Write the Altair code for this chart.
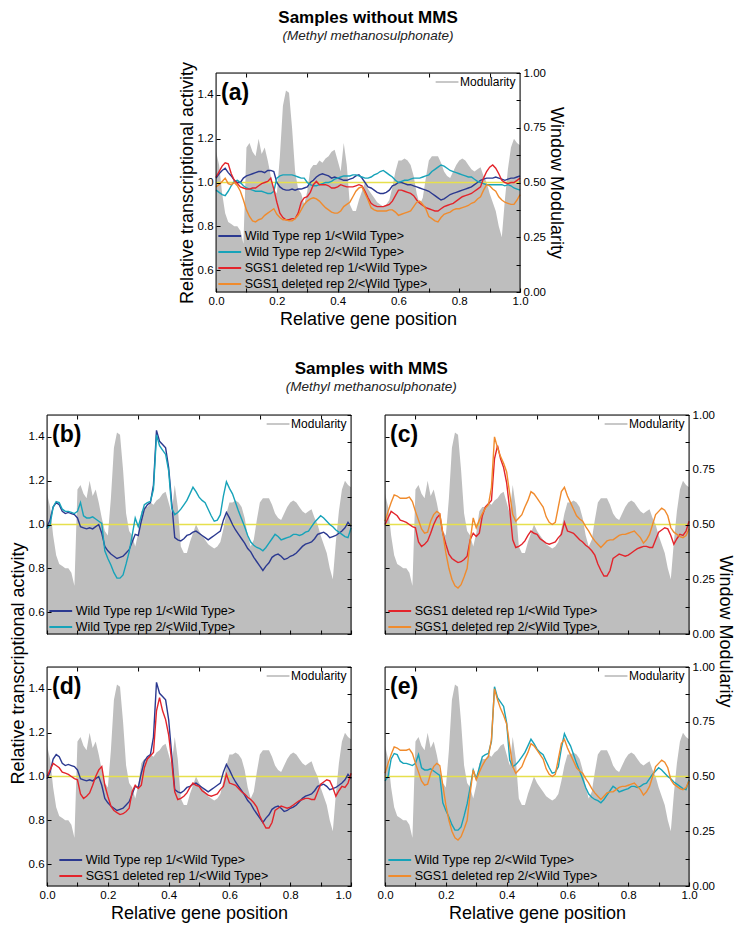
import altair as alt
import pandas as pd

# ---------------- data ----------------
X = [round(i * 0.01, 2) for i in range(101)]

MODULARITY = [
    0.64, 0.58, 0.45, 0.36, 0.32, 0.31, 0.30, 0.30, 0.28, 0.22,
    0.66, 0.68, 0.64, 0.62, 0.70, 0.63, 0.66, 0.60, 0.53, 0.47,
    0.45, 0.62, 0.85, 0.92, 0.91, 0.75, 0.55, 0.47, 0.45, 0.40,
    0.46, 0.56, 0.58, 0.58, 0.60, 0.59, 0.61, 0.62, 0.64, 0.65,
    0.60, 0.55, 0.68, 0.58, 0.40, 0.37, 0.37, 0.42, 0.46, 0.50,
    0.47, 0.45, 0.43, 0.41, 0.40, 0.39, 0.40, 0.42, 0.48, 0.55,
    0.60, 0.60, 0.61, 0.60, 0.58, 0.53, 0.45, 0.40, 0.43, 0.52,
    0.60, 0.62, 0.62, 0.62, 0.59, 0.55, 0.53, 0.52, 0.55, 0.58,
    0.60, 0.61, 0.60, 0.58, 0.56, 0.55, 0.56, 0.57, 0.53, 0.50,
    0.45, 0.41, 0.37, 0.30, 0.25, 0.42, 0.56, 0.66, 0.70, 0.68,
    0.67,
]

# Samples without MMS
NO_WT1 = [
    1.02, 1.04, 1.055, 1.065, 1.045, 1.03, 1.01, 1.00, 1.00, 1.02,
    1.03, 1.035, 1.04, 1.045, 1.05, 1.05, 1.045, 1.055, 1.055, 1.05,
    1.00, 0.98, 0.97, 0.965, 0.965, 0.97, 0.965, 0.97, 0.97, 0.975,
    0.98, 1.00, 1.01, 1.025, 1.035, 1.04, 1.035, 1.03, 1.02, 1.025,
    1.02, 1.015, 1.01, 1.01, 1.015, 1.02, 1.03, 1.035, 1.02, 1.00,
    0.98, 0.975, 0.965, 0.955, 0.95, 0.95, 0.955, 0.965, 0.985, 0.99,
    1.00, 1.00, 0.995, 0.99, 0.99, 0.985, 0.98, 0.975, 0.97, 0.965,
    0.96, 0.95, 0.94, 0.93, 0.92, 0.925, 0.935, 0.945, 0.95, 0.955,
    0.96, 0.965, 0.97, 0.975, 0.98, 0.99, 1.00, 1.01, 1.015, 1.02,
    1.02, 1.02, 1.025, 1.02, 1.015, 1.01, 1.015, 1.02, 1.02, 1.025,
    1.03,
]
NO_WT2 = [
    0.965, 0.955, 0.945, 0.94, 0.96, 0.985, 1.005, 1.01, 1.00, 0.985,
    0.975, 0.97, 0.965, 0.96, 0.96, 0.96, 0.955, 0.95, 0.95, 0.96,
    1.02, 1.03, 1.035, 1.035, 1.035, 1.035, 1.03, 1.025, 1.02, 1.02,
    1.00, 0.99, 0.985, 0.985, 0.99, 0.995, 1.00, 1.00, 1.005, 1.015,
    1.02, 1.025, 1.03, 1.03, 1.03, 1.035, 1.035, 1.03, 1.025, 1.02,
    1.02, 1.025, 1.035, 1.04, 1.05, 1.055, 1.045, 1.035, 1.025, 1.01,
    1.00, 1.005, 1.01, 1.01, 1.015, 1.02, 1.02, 1.02, 1.025, 1.03,
    1.035, 1.05, 1.06, 1.07, 1.08, 1.075, 1.065, 1.055, 1.05, 1.045,
    1.04, 1.035, 1.03, 1.025, 1.025, 1.015, 1.005, 1.00, 0.995, 0.99,
    0.99, 0.99, 0.99, 0.99, 0.99, 0.985, 0.99, 0.985, 0.975, 0.97,
    0.965,
]
NO_S1 = [
    1.025, 1.05, 1.075, 1.09, 1.085, 1.04, 1.01, 0.995, 0.98, 0.975,
    0.97, 0.97, 0.975, 0.975, 0.985, 0.995, 1.00, 1.005, 1.02, 0.97,
    0.91, 0.86, 0.84, 0.83, 0.83, 0.835, 0.835, 0.86, 0.91, 0.93,
    0.935, 0.955, 0.99, 1.005, 0.99, 0.99, 0.99, 0.985, 0.975, 0.975,
    0.98, 0.99, 0.985, 0.98, 0.98, 0.98, 0.985, 0.99, 0.985, 0.96,
    0.93, 0.905, 0.895, 0.89, 0.89, 0.89, 0.895, 0.90, 0.915, 0.94,
    0.965, 0.965, 0.96, 0.955, 0.95, 0.94, 0.92, 0.905, 0.895, 0.885,
    0.88, 0.875, 0.87, 0.87, 0.88, 0.89, 0.895, 0.90, 0.905, 0.915,
    0.925, 0.935, 0.94, 0.945, 0.95, 0.96, 0.97, 0.98, 1.02, 1.05,
    1.07, 1.08, 1.065, 1.04, 1.01, 1.00, 0.995, 1.00, 1.00, 1.01,
    1.02,
]
NO_S2 = [
    0.98, 0.99, 1.005, 1.02, 0.995, 0.99, 1.00, 0.985, 0.96, 0.92,
    0.875, 0.845, 0.825, 0.82, 0.83, 0.835, 0.85, 0.86, 0.87, 0.88,
    0.855, 0.84, 0.83, 0.83, 0.825, 0.825, 0.835, 0.85, 0.875, 0.90,
    0.915, 0.925, 0.93, 0.925, 0.915, 0.90, 0.885, 0.875, 0.865, 0.86,
    0.86, 0.87, 0.89, 0.90, 0.91, 0.935, 0.96, 0.975, 0.98, 0.95,
    0.92, 0.885, 0.875, 0.87, 0.87, 0.87, 0.87, 0.875, 0.875, 0.865,
    0.85, 0.855, 0.86, 0.865, 0.87, 0.89, 0.91, 0.915, 0.90, 0.88,
    0.845, 0.835, 0.825, 0.82, 0.84, 0.855, 0.86, 0.865, 0.875, 0.88,
    0.88, 0.885, 0.89, 0.895, 0.905, 0.91, 0.925, 0.935, 0.965, 0.99,
    0.985, 0.97, 0.96, 0.935, 0.92, 0.91, 0.905, 0.90, 0.90, 0.92,
    0.945,
]

# Samples with MMS
MMS_WT1 = [
    0.99, 1.02, 1.08, 1.10, 1.09, 1.06, 1.05, 1.055, 1.05, 1.045,
    1.03, 0.99, 0.985, 0.98, 0.985, 0.98, 0.99, 1.00, 0.96, 0.90,
    0.88, 0.865, 0.855, 0.845, 0.85, 0.855, 0.87, 0.885, 0.92, 0.955,
    0.95, 1.015, 1.07, 1.09, 1.10, 1.18, 1.43, 1.38, 1.365, 1.35,
    1.26, 1.10, 0.94, 0.93, 0.925, 0.935, 0.95, 0.955, 0.965, 0.97,
    0.96, 0.95, 0.94, 0.93, 0.94, 0.95, 0.96, 0.97, 1.02, 1.055,
    1.03, 1.00, 0.975, 0.955, 0.935, 0.915, 0.89, 0.875, 0.85, 0.83,
    0.81, 0.79, 0.81, 0.825, 0.85, 0.86, 0.865, 0.855, 0.84, 0.845,
    0.855, 0.86, 0.87, 0.885, 0.90, 0.91, 0.915, 0.92, 0.935, 0.955,
    0.96, 0.965, 0.955, 0.94, 0.945, 0.95, 0.96, 0.97, 0.985, 1.01,
    0.99,
]
MMS_WT2 = [
    0.98, 1.00, 1.08, 1.105, 1.10, 1.07, 1.06, 1.06, 1.055, 1.05,
    1.06, 1.10, 1.04, 1.03, 1.03, 1.035, 1.025, 1.015, 1.005, 0.88,
    0.845, 0.815, 0.78, 0.755, 0.755, 0.77, 0.82, 0.875, 0.95, 1.03,
    0.99, 1.04, 1.09, 1.10, 1.105, 1.16, 1.41, 1.36, 1.34, 1.32,
    1.245, 1.075, 1.045, 1.055, 1.07, 1.09, 1.11, 1.14, 1.17, 1.15,
    1.125, 1.11, 1.10, 1.07, 1.04, 1.015, 1.02, 1.045, 1.13, 1.195,
    1.165, 1.14, 1.10, 1.06, 1.025, 0.99, 0.95, 0.92, 0.905, 0.895,
    0.89, 0.88, 0.895, 0.915, 0.935, 0.955, 0.945, 0.93, 0.935, 0.94,
    0.945, 0.955, 0.955, 0.95, 0.955, 0.965, 0.97, 0.99, 1.01, 1.025,
    1.04, 1.03, 1.015, 1.00, 0.99, 0.975, 0.965, 0.955, 0.945, 0.94,
    0.985,
]
MMS_S1 = [
    1.00, 1.03, 1.06, 1.05, 1.04, 1.02, 1.015, 1.01, 1.00, 0.99,
    0.985, 0.92, 0.90, 0.91, 0.925, 0.96, 1.00, 1.03, 1.045, 0.96,
    0.91, 0.865, 0.845, 0.835, 0.826, 0.83, 0.84, 0.855, 0.93, 0.96,
    0.945, 0.96, 1.04, 1.08, 1.095, 1.11, 1.30, 1.36, 1.30, 1.26,
    1.19, 1.07, 0.93, 0.895, 0.90, 0.91, 0.925, 0.95, 0.97, 0.96,
    0.955, 0.935, 0.925, 0.915, 0.91, 0.915, 0.92, 0.94, 0.955, 1.01,
    0.97, 0.965, 0.96, 0.945, 0.93, 0.92, 0.905, 0.895, 0.88, 0.86,
    0.82, 0.79, 0.765, 0.765, 0.79, 0.845, 0.855, 0.865, 0.86, 0.855,
    0.86, 0.87, 0.88, 0.89, 0.895, 0.90, 0.90, 0.895, 0.895, 0.93,
    0.965, 0.975, 0.985, 0.98, 0.95, 0.91, 0.935, 0.955, 0.95, 0.97,
    1.015,
]
MMS_S2 = [
    1.015, 1.06, 1.10, 1.135, 1.13, 1.12, 1.12, 1.12, 1.125, 1.105,
    1.06, 1.02, 0.98, 0.96, 0.965, 1.015, 1.045, 1.06, 1.05, 0.96,
    0.87, 0.80, 0.75, 0.72, 0.71, 0.725, 0.76, 0.80, 0.925, 1.03,
    0.985, 1.02, 1.05, 1.075, 1.09, 1.17, 1.40, 1.35, 1.31, 1.28,
    1.24, 1.14, 1.045, 1.015, 1.03, 1.045, 1.08, 1.11, 1.15, 1.14,
    1.12, 1.10, 1.08, 1.035, 1.01, 1.00, 1.01, 1.08, 1.15, 1.17,
    1.13, 1.10, 1.07, 1.04, 1.025, 1.015, 0.99, 0.97, 0.945, 0.925,
    0.91, 0.895, 0.91, 0.925, 0.93, 0.93, 0.94, 0.95, 0.955, 0.955,
    0.96, 0.965, 0.97, 0.955, 0.94, 0.915, 0.93, 0.955, 1.00, 1.045,
    1.06, 1.075, 1.065, 1.04, 0.985, 0.965, 0.955, 0.945, 0.94, 0.95,
    0.98,
]

N_WT1 = "Wild Type rep 1/<Wild Type>"
N_WT2 = "Wild Type rep 2/<Wild Type>"
N_S1 = "SGS1 deleted rep 1/<Wild Type>"
N_S2 = "SGS1 deleted rep 2/<Wild Type>"

# ---------------- style ----------------
FONT = "Liberation Sans, Arial, sans-serif"
COLORS = {N_WT1: "#2b3990", N_WT2: "#17a3b9", N_S1: "#e3242b", N_S2: "#f08b2d"}
GREY = "#bebebe"
LEG_GREY = "#c8c8c8"
YELLOW = "#e6e04d"
SYM = "M-2,0H2"
PW = 304      # panel width
PH = 219      # panel height
LBL = 11.5    # tick label size
TTL = 18      # axis title size

LEFT_TICKS = [round(0.5 + 0.1 * i, 1) for i in range(1, 10)]
RIGHT_TICKS = [i / 8 for i in range(9)]
X_TICKS = [round(0.1 * i, 1) for i in range(11)]
TOP_TICKS = X_TICKS[1:-1]

LEFT_EXPR = "round(datum.value*10) % 2 == 0 ? format(datum.value, '.1f') : ''"
RIGHT_EXPR = "round(datum.value*8) % 2 == 0 ? format(datum.value, '.2f') : ''"


def make_axis(orient, values, show_labels, label_expr=None, title=None, extra=None):
    kw = dict(orient=orient, values=values, tickSize=4, offset=-4, domain=False,
              grid=False, tickColor="black", tickWidth=1, zindex=1,
              labels=show_labels, labelFontSize=LBL, labelColor="black", labelFont=FONT)
    if show_labels and label_expr:
        kw["labelExpr"] = label_expr
    if title:
        kw.update(title=title, titleFontSize=TTL, titleFontWeight="normal",
                  titleColor="black", titleFont=FONT)
    else:
        kw["title"] = None
    if extra:
        kw.update(extra)
    return alt.Axis(**kw)


def panel(letter, series, left_labels, right_labels, x_labels,
          x_title=False, left_title=None, left_title_y=None,
          right_title=None, right_title_y=None, leg_x=6.7, leg_y=189,
          flush_last=False):
    mod_df = pd.DataFrame({"x": X, "m": MODULARITY, "k": ["Modularity"] * len(X)})

    bottom_extra = dict(labelPadding=3, titlePadding=4, labelFlush=False)
    if flush_last:
        bottom_extra["labelAlign"] = {"condition": {"test": "datum.value == 1", "value": "right"},
                                      "value": "center"}
    right_extra = dict(labelPadding=3, titlePadding=1)
    if right_title_y is not None:
        right_extra["titleY"] = right_title_y
    left_extra = dict(labelPadding=3, titlePadding=1)
    if left_title_y is not None:
        left_extra["titleY"] = left_title_y

    area = alt.Chart(mod_df).mark_area(fillOpacity=1).encode(
        x=alt.X("x:Q", scale=alt.Scale(domain=[0, 1], nice=False),
                axis=make_axis("bottom", X_TICKS, x_labels, LEFT_EXPR,
                               "Relative gene position" if x_title else None, bottom_extra)),
        y=alt.Y("m:Q", scale=alt.Scale(domain=[0, 1], nice=False),
                axis=make_axis("right", RIGHT_TICKS, right_labels, RIGHT_EXPR,
                               right_title, right_extra)),
        fill=alt.Fill("k:N", scale=alt.Scale(domain=["Modularity"], range=[GREY]),
                      legend=alt.Legend(orient="none", legendX=PW - 80, legendY=2,
                                        title=None, symbolType=SYM, symbolSize=130,
                                        symbolStrokeColor=LEG_GREY, symbolStrokeWidth=2,
                                        symbolFillColor=LEG_GREY,
                                        labelFontSize=12, labelFont=FONT, labelColor="black",
                                        labelOffset=6, padding=0)),
    )

    names = [n for n, _ in series]
    rows = []
    for n, vals in series:
        for xv, v in zip(X, vals):
            rows.append({"x": xv, "v": v, "s": n})
    line_df = pd.DataFrame(rows)

    yscale = alt.Scale(domain=[0.5, 1.5], nice=False, zero=False)
    xscale = alt.Scale(domain=[0, 1], nice=False)

    rule = alt.Chart(pd.DataFrame({"v": [1.0]})).mark_rule(
        color=YELLOW, strokeWidth=1.6).encode(y=alt.Y("v:Q", scale=yscale))

    lines = alt.Chart(line_df).mark_line(strokeWidth=1.4).encode(
        x=alt.X("x:Q", scale=xscale, axis=make_axis("top", TOP_TICKS, False)),
        y=alt.Y("v:Q", scale=yscale,
                axis=make_axis("left", LEFT_TICKS, left_labels, LEFT_EXPR,
                               left_title, left_extra)),
        stroke=alt.Stroke("s:N", scale=alt.Scale(domain=names, range=[COLORS[n] for n in names]),
                          legend=alt.Legend(orient="none", legendX=leg_x, legendY=leg_y,
                                            direction="vertical", title=None, symbolType=SYM,
                                            symbolSize=130, symbolStrokeWidth=2,
                                            labelFontSize=12.5, labelFont=FONT,
                                            labelColor="black", labelOffset=8, rowPadding=2,
                                            padding=0, labelLimit=400)),
        order=alt.Order("x:Q"),
    )

    frame = alt.Chart(pd.DataFrame({"x": [0.0], "x_end": [1.0], "v": [0.5], "v_end": [1.5]})
                      ).mark_rect(fill="transparent", stroke="black", strokeWidth=1,
                                  strokeOpacity=1).encode(
        x=alt.X("x:Q", scale=xscale), x2="x_end:Q",
        y=alt.Y("v:Q", scale=yscale), y2="v_end:Q")

    label = alt.Chart(pd.DataFrame({"t": [f"({letter})"]})).mark_text(
        align="left", baseline="alphabetic", fontSize=23, fontWeight="bold",
        font=FONT, color="black").encode(x=alt.value(5), y=alt.value(27), text="t:N")

    inner = alt.layer(rule, lines, frame, label)
    return alt.layer(area, inner).resolve_scale(x="independent", y="independent").properties(
        width=PW, height=PH)


pa = panel("a", [(N_WT1, NO_WT1), (N_WT2, NO_WT2), (N_S1, NO_S1), (N_S2, NO_S2)],
           True, True, True, x_title=True,
           left_title="Relative transcriptional activity", right_title="Window Modularity",
           leg_x=6.7, leg_y=156)
pb = panel("b", [(N_WT1, MMS_WT1), (N_WT2, MMS_WT2)], True, False, False,
           leg_x=6.7, leg_y=189)
pc = panel("c", [(N_S1, MMS_S1), (N_S2, MMS_S2)], False, True, False,
           right_title="Window Modularity", right_title_y=216, leg_x=7.7, leg_y=189)
pd_ = panel("d", [(N_WT1, MMS_WT1), (N_S1, MMS_S1)], True, False, True,
            x_title=True, left_title="Relative transcriptional activity", left_title_y=-4,
            leg_x=16.7, leg_y=186, flush_last=True)
pe = panel("e", [(N_WT2, MMS_WT2), (N_S2, MMS_S2)], False, True, True,
           x_title=True, leg_x=7.7, leg_y=186)

RES = dict(stroke="independent", fill="independent")


def title_params(text, offset):
    return alt.TitleParams(text, subtitle="(Methyl methanosulphonate)",
                           fontSize=17, fontWeight="bold", font=FONT, color="black",
                           subtitleFont=FONT, subtitleFontSize=13.5,
                           subtitleFontStyle="italic", subtitleColor="#222222",
                           subtitlePadding=2, anchor="middle", offset=offset)


grid = alt.concat(pb, pc, pd_, pe, columns=2, spacing={"row": 33, "column": 34},
                  bounds="flush", title=title_params("Samples with MMS", 14)
                  ).resolve_scale(**RES)

pa = pa.properties(title=title_params("Samples without MMS", 18))

chart = alt.vconcat(pa, grid, spacing=31, center=True).resolve_scale(
    **RES).properties(padding={"left": 0, "top": 0, "right": 6, "bottom": 0}).configure_view(
    stroke="black", strokeWidth=1).configure(font=FONT)

chart.save("out.html", embed_options={"renderer": "svg", "actions": False})
